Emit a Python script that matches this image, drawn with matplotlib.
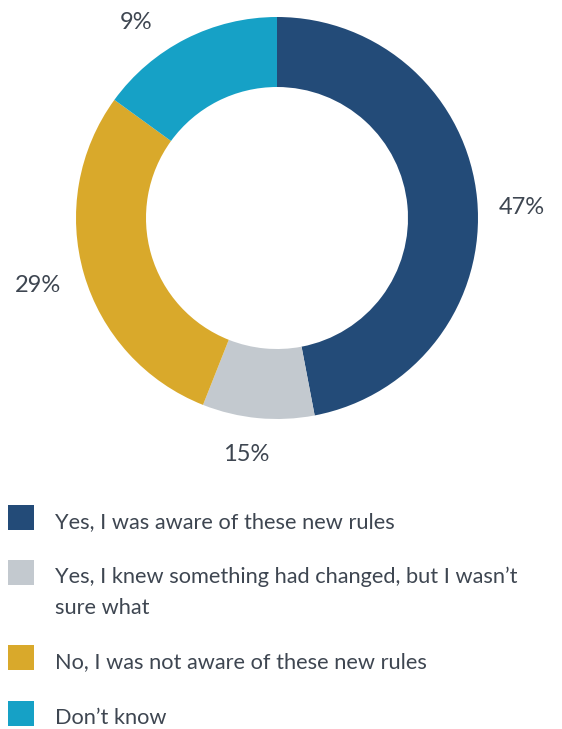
import numpy as np
import matplotlib
matplotlib.use("Agg")
import matplotlib.pyplot as plt
from matplotlib.patches import Rectangle

# slice sizes as drawn, and the labels printed next to them
answers = ["Yes, I was aware of these new rules",
           "Yes, I knew something had changed, but I wasn\u2019t\nsure what",
           "No, I was not aware of these new rules",
           "Don\u2019t know"]
slice_sizes = [47, 9, 29, 15]
slice_labels = ["47%", "15%", "29%", "9%"]
colors = ["#234b78", "#c3c9cf", "#d9a92b", "#16a1c6"]

TEXT = "#3e4651"
W, H = 562, 729

plt.rcParams['font.family'] = ['Lato', 'DejaVu Sans']

fig = plt.figure(figsize=(W / 100, H / 100), dpi=100)
ax = fig.add_axes([0, 0, 1, 1])

# work in pixel units, y measured up from the bottom
cx, cy, R = 277, H - 218, 201
wedges, _ = ax.pie(slice_sizes, colors=colors, startangle=90, counterclock=False,
                   radius=R, center=(cx, cy),
                   wedgeprops=dict(width=70, linewidth=0))
ax.set_xlim(0, W)
ax.set_ylim(0, H)
ax.set_axis_off()

# percentage labels around the ring (hand nudged like the original)
nudge = [(2, -12), (-8, 7), (-4, 1), (-30, -22)]
for w, lab, (dx, dy) in zip(wedges, slice_labels, nudge):
    mid = np.deg2rad((w.theta1 + w.theta2) / 2)
    x = cx + 1.215 * R * np.cos(mid) + dx
    y = cy + 1.215 * R * np.sin(mid) + dy
    ax.text(x, y, lab, ha="center", va="center", fontsize=17, color=TEXT)

# legend rows: square + text, first line baseline given in px from top
baselines = [528, 583, 668, 724]
for ans, col, base in zip(answers, colors, baselines):
    ax.add_patch(Rectangle((8, H - base - 2), 26, 25, facecolor=col, edgecolor="none"))
    for k, line in enumerate(ans.split("\n")):
        ax.text(55, H - base - k * 31, line, ha="left", va="baseline",
                fontsize=15.7, color=TEXT)

fig.savefig("out.png", dpi=100, facecolor="white")
